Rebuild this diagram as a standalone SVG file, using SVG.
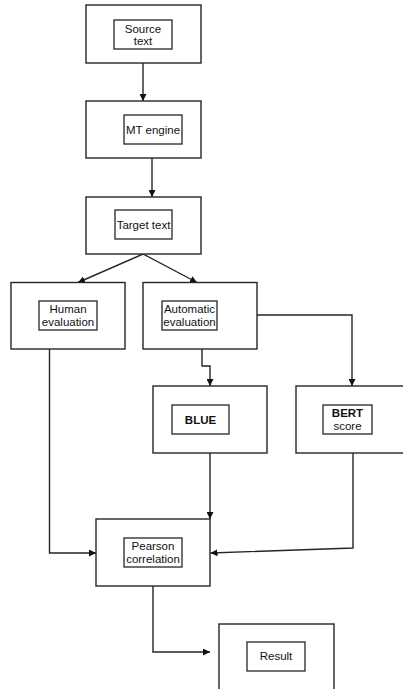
<svg xmlns="http://www.w3.org/2000/svg" width="403" height="689" viewBox="0 0 403 689">
<style>
.box{fill:#fff;stroke:#262626;stroke-width:1.4}
.inner{fill:#fff;stroke:#262626;stroke-width:1.3}
.t{font-family:"Liberation Sans",Arial,sans-serif;font-size:11.5px;fill:#111;text-anchor:middle}
.tb{font-family:"Liberation Sans",Arial,sans-serif;font-size:11.5px;fill:#111;text-anchor:middle;font-weight:bold}
.c{fill:none;stroke:#262626;stroke-width:1.4}
</style>
<defs>
<marker id="ah" viewBox="0 0 10 10" refX="10" refY="5" markerWidth="7" markerHeight="7" markerUnits="userSpaceOnUse" orient="auto">
<path d="M0,0 L10,5 L0,10 z" fill="#111"/>
</marker>
</defs>
<rect width="403" height="689" fill="#fff"/>
<g id="connectors">
<path class="c" d="M143,63 V101" marker-end="url(#ah)"/>
<path class="c" d="M152,158 V197" marker-end="url(#ah)"/>
<path class="c" d="M143,254 L78,282.5" marker-end="url(#ah)"/>
<path class="c" d="M143,254 L197,282.5" marker-end="url(#ah)"/>
<path class="c" d="M49.5,349 V553 H96" marker-end="url(#ah)"/>
<path class="c" d="M202,349 V366 H210 V386" marker-end="url(#ah)"/>
<path class="c" d="M257,315 H352 V386" marker-end="url(#ah)"/>
<path class="c" d="M210,453 V519" marker-end="url(#ah)"/>
<path class="c" d="M353,453 V548 L210.5,553" marker-end="url(#ah)"/>
<path class="c" d="M153,586 V652 H210" marker-end="url(#ah)"/>
</g>
<g id="source">
<rect class="box" x="86" y="5" width="115" height="58"/>
<rect class="inner" x="114" y="20" width="58" height="29"/>
<text class="t" x="143" y="32.5">Source</text>
<text class="t" x="143" y="45">text</text>
</g>
<g id="mt">
<rect class="box" x="86" y="101" width="115" height="57"/>
<rect class="inner" x="124" y="115" width="58" height="29"/>
<text class="t" x="153" y="133.5">MT engine</text>
</g>
<g id="target">
<rect class="box" x="86" y="197" width="115" height="57"/>
<rect class="inner" x="115" y="210" width="57" height="29"/>
<text class="t" x="143.5" y="228.5">Target text</text>
</g>
<g id="human">
<rect class="box" x="11" y="282.5" width="114" height="66.5"/>
<rect class="inner" x="39" y="301" width="58" height="29"/>
<text class="t" x="68" y="312.5">Human</text>
<text class="t" x="68" y="326">evaluation</text>
</g>
<g id="automatic">
<rect class="box" x="143" y="282.5" width="114" height="66.5"/>
<rect class="inner" x="162" y="301" width="55" height="29"/>
<text class="t" x="189.5" y="312.5">Automatic</text>
<text class="t" x="189.5" y="326">evaluation</text>
</g>
<g id="blue">
<rect class="box" x="153" y="386" width="114" height="67"/>
<rect class="inner" x="172" y="405" width="57" height="29"/>
<text class="tb" x="200.5" y="424">BLUE</text>
</g>
<g id="bert">
<rect class="box" x="296" y="386" width="115" height="67"/>
<rect class="inner" x="323" y="405" width="49" height="29"/>
<text class="tb" x="347.5" y="416.5" style="font-weight:600">BERT</text>
<text class="t" x="347.5" y="430">score</text>
</g>
<g id="pearson">
<rect class="box" x="96" y="519" width="114" height="67"/>
<rect class="inner" x="124" y="538" width="58" height="29"/>
<text class="t" x="153" y="549.5">Pearson</text>
<text class="t" x="153" y="563">correlation</text>
</g>
<g id="result">
<rect class="box" x="219" y="624" width="115" height="70"/>
<rect class="inner" x="247" y="642" width="58" height="29"/>
<text class="t" x="276" y="660">Result</text>
</g>
</svg>
